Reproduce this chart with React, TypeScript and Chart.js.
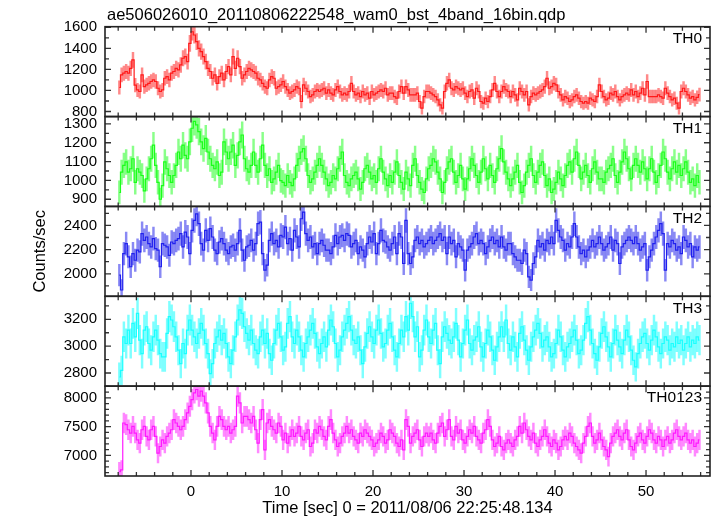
import React, { useEffect, useRef } from "react";
import { Chart, registerables } from "chart.js";

Chart.register(...registerables);

const BIN = 0.25;
const T_START = -7.875;
const TITLE = "ae506026010_20110806222548_wam0_bst_4band_16bin.qdp";
const X_TITLE = "Time [sec] 0 = 2011/08/06 22:25:48.134";
const Y_TITLE = "Counts/sec";
const X_TICKS = [0, 10, 20, 30, 40, 50];

const TH0_TICKS = [800, 1000, 1200, 1400, 1600];
const TH1_TICKS = [900, 1000, 1100, 1200, 1300];
const TH2_TICKS = [2000, 2200, 2400];
const TH3_TICKS = [2800, 3000, 3200];
const TH0123_TICKS = [7000, 7500, 8000];

const TH0 = [
  1028, 1148, 1164, 1180, 1164, 1210, 1290, 1050, 1005, 990, 1148, 1037, 1053, 1068, 1085, 1100,
  1085, 1021, 990, 1005, 1116, 1132, 1100, 1164, 1180, 1210, 1195, 1243, 1306, 1322, 1274, 1448,
  1558, 1527, 1464, 1400, 1370, 1322, 1274, 1210, 1180, 1116, 1148, 1068, 1132, 1164, 1100, 1180,
  1227, 1148, 1322, 1210, 1306, 1227, 1116, 1148, 1180, 1210, 1195, 1180, 1164, 1116, 1100, 1068,
  1037, 1021, 1100, 1132, 1116, 1021, 1037, 1053, 1085, 1037, 1005, 974, 990, 1005, 1037, 1021,
  895, 1053, 1021, 990, 942, 958, 990, 1005, 990, 1005, 1021, 974, 1005, 974, 958, 1005,
  1037, 990, 958, 974, 958, 990, 1068, 990, 958, 974, 942, 990, 958, 974, 927, 990,
  958, 974, 990, 1005, 990, 1021, 958, 974, 974, 942, 927, 990, 1037, 974, 1037, 1005,
  958, 958, 958, 974, 895, 832, 942, 990, 990, 974, 958, 942, 911, 863, 832, 990,
  1068, 1100, 1021, 1005, 1037, 1021, 1005, 1021, 974, 942, 990, 1005, 927, 1021, 990, 895,
  879, 927, 895, 942, 1005, 1068, 990, 942, 990, 1037, 1005, 990, 942, 990, 958, 911,
  1021, 990, 958, 990, 863, 942, 974, 958, 974, 990, 1005, 1037, 1116, 1021, 1037, 1068,
  1053, 990, 958, 911, 942, 927, 895, 911, 942, 958, 927, 895, 879, 895, 879, 927,
  911, 895, 942, 1053, 990, 942, 911, 927, 974, 958, 990, 942, 911, 942, 958, 974,
  958, 1005, 958, 990, 942, 974, 1021, 958, 1085, 942, 942, 942, 942, 958, 942, 927,
  1021, 974, 942, 911, 927, 879, 832, 990, 1021, 990, 958, 927, 942, 911, 935, 960,
];

const TH1 = [
  936, 1044, 1080, 1098, 1044, 1062, 1115, 990, 1062, 1044, 1026, 945, 1008, 1062, 1115, 1187,
  1080, 990, 900, 972, 1098, 1062, 1026, 990, 1026, 1080, 1151, 1115, 1187, 1133, 1115, 1205,
  1277, 1313, 1295, 1259, 1205, 1169, 1223, 1151, 1115, 1080, 1062, 1098, 1026, 1044, 1205, 1151,
  1115, 1151, 1187, 1080, 1133, 1205, 1241, 1115, 1062, 1044, 1080, 1151, 1080, 1044, 1115, 1187,
  1080, 1026, 1062, 990, 1008, 1044, 1080, 999, 990, 972, 1026, 990, 972, 1008, 1080, 1115,
  1151, 1169, 1115, 1026, 990, 1008, 1044, 1080, 1115, 1080, 1044, 1008, 972, 990, 1026, 1008,
  1062, 1115, 1151, 1026, 990, 972, 1008, 1026, 1044, 1008, 954, 990, 1062, 1080, 1044, 1008,
  1026, 990, 1062, 1115, 1044, 1008, 972, 1026, 990, 1044, 1098, 1026, 990, 954, 1044, 1008,
  972, 1080, 1115, 1026, 990, 954, 936, 1008, 1062, 1080, 1115, 1098, 1044, 1008, 936, 990,
  1062, 1098, 1115, 1044, 990, 1026, 1080, 1008, 954, 1008, 1062, 1115, 1080, 1026, 990, 1044,
  1115, 1062, 1008, 1080, 1026, 990, 1062, 1115, 1169, 1098, 1044, 1008, 972, 1008, 1044, 1080,
  990, 936, 972, 1044, 1080, 1115, 1026, 990, 1044, 1080, 1098, 1026, 972, 1008, 936, 954,
  990, 1044, 1008, 972, 1026, 1080, 1098, 1044, 1115, 1151, 1080, 1008, 1044, 1080, 1026, 990,
  1062, 1098, 1044, 1008, 1008, 990, 1044, 1062, 1080, 1115, 1026, 990, 1044, 1098, 1151, 1115,
  1062, 1008, 1080, 1115, 1080, 1044, 1098, 1062, 1008, 1062, 1115, 1044, 990, 1026, 1080, 1151,
  1115, 1044, 1008, 1062, 1098, 1044, 1080, 1026, 1062, 1098, 1044, 990, 1008, 972, 1026, 990,
];

const TH2 = [
  1989, 1866, 2167, 2249, 2140, 2058, 2167, 2112, 2195, 2181, 2332, 2277, 2304, 2249, 2222, 2290,
  2208, 2195, 2058, 2249, 2236, 2222, 2153, 2263, 2249, 2277, 2290, 2332, 2222, 2345, 2304, 2167,
  2359, 2441, 2496, 2414, 2249, 2195, 2359, 2277, 2373, 2304, 2195, 2167, 2263, 2290, 2249, 2195,
  2167, 2222, 2236, 2195, 2249, 2359, 2195, 2112, 2222, 2236, 2277, 2195, 2249, 2414, 2427, 2167,
  2030, 2071, 2277, 2332, 2249, 2277, 2222, 2318, 2304, 2386, 2249, 2290, 2195, 2359, 2304, 2222,
  2455, 2510, 2332, 2277, 2304, 2222, 2249, 2167, 2249, 2277, 2236, 2195, 2195, 2167, 2222, 2318,
  2249, 2304, 2318, 2277, 2332, 2318, 2222, 2249, 2277, 2167, 2222, 2195, 2140, 2249, 2304, 2263,
  2332, 2167, 2249, 2359, 2277, 2263, 2222, 2195, 2249, 2304, 2167, 2332, 2304, 2085, 2441, 2167,
  2085, 2140, 2277, 2304, 2249, 2277, 2222, 2249, 2277, 2304, 2249, 2277, 2304, 2332, 2277, 2304,
  2167, 2304, 2249, 2277, 2140, 2249, 2222, 2195, 2030, 2195, 2222, 2249, 2304, 2332, 2249, 2277,
  2249, 2167, 2222, 2277, 2304, 2249, 2277, 2222, 2304, 2222, 2195, 2249, 2249, 2167, 2140, 2112,
  2112, 2085, 2195, 2167, 1975, 1948, 2085, 2140, 2277, 2222, 2249, 2195, 2277, 2249, 2304, 2249,
  2441, 2359, 2304, 2277, 2195, 2249, 2222, 2304, 2414, 2304, 2222, 2167, 2195, 2140, 2195, 2222,
  2277, 2222, 2249, 2304, 2249, 2195, 2222, 2249, 2304, 2195, 2277, 2249, 2085, 2222, 2249, 2277,
  2304, 2277, 2249, 2304, 2249, 2195, 2222, 2249, 2030, 2140, 2195, 2249, 2304, 2359, 2414, 2332,
  2030, 2249, 2222, 2277, 2249, 2195, 2222, 2167, 2304, 2277, 2222, 2249, 2140, 2222, 2195, 2222,
];

const TH3 = [
  2770, 2820, 3070, 3020, 3120, 3020, 3170, 3070, 3245, 3045, 2945, 3120, 3145, 3020, 2970, 3070,
  3120, 3045, 2945, 2920, 2920, 3095, 3220, 3195, 3145, 3070, 2970, 2870, 3020, 2945, 3120, 3195,
  3120, 3070, 3020, 3095, 3170, 3120, 3020, 2945, 2795, 2870, 3020, 3070, 3120, 3045, 3095, 3020,
  2920, 2870, 2970, 3070, 3195, 3270, 3245, 3145, 3095, 3045, 3120, 3020, 2970, 2945, 3070, 3120,
  3020, 3095, 2945, 2895, 3020, 3120, 3170, 3070, 2970, 2995, 3170, 3220, 3070, 3020, 3120, 3070,
  2970, 2920, 3020, 3070, 3120, 3170, 3095, 2995, 2945, 3020, 3070, 2995, 3120, 3195, 3145, 3020,
  2920, 2970, 3070, 3120, 3170, 3220, 3120, 3045, 3020, 3070, 2970, 2870, 2995, 3095, 3145, 3070,
  3020, 3120, 3195, 3095, 2995, 3020, 3120, 3170, 3070, 2970, 2920, 3020, 3120, 3070, 3220, 3120,
  3320, 3220, 3070, 3145, 2920, 2970, 3120, 3195, 3070, 3020, 3120, 3170, 2970, 2870, 3070, 3145,
  3095, 3045, 3020, 3070, 3170, 3045, 2920, 3020, 3120, 3195, 3020, 2970, 3045, 3070, 3145, 2995,
  2920, 3020, 3120, 3070, 2970, 2895, 2995, 3070, 3145, 3070, 3195, 3020, 2970, 3070, 2995, 2920,
  3095, 3145, 3045, 2970, 2895, 2995, 3070, 3120, 3170, 3095, 2995, 3045, 3070, 2995, 2920, 2945,
  3020, 3120, 3070, 2970, 2920, 2995, 3020, 3070, 3120, 3045, 2945, 2970, 3045, 3170, 3220, 3120,
  3020, 2945, 2895, 2995, 3095, 3145, 3070, 2995, 2920, 3020, 3120, 3045, 2995, 2945, 3045, 3120,
  3070, 2970, 2895, 2845, 2945, 3020, 3070, 3095, 3020, 2970, 3045, 3120, 3070, 2995, 2945, 3020,
  3070, 3045, 2970, 3020, 2995, 3070, 3020, 3045, 2970, 3020, 3070, 2995, 3045, 3020, 3070, 3045,
];

const TH0123 = [
  6717, 6747, 7563, 7534, 7446, 7388, 7504, 7388, 7271, 7213, 7446, 7504, 7330, 7271, 7446, 7504,
  7330, 7038, 7155, 7271, 7213, 7330, 7388, 7446, 7621, 7563, 7504, 7446, 7504, 7621, 7738, 7854,
  7971, 8087, 8146, 8029, 8117, 8029, 7913, 7738, 7504, 7388, 7271, 7504, 7679, 7621, 7504, 7446,
  7504, 7388, 7446, 7504, 8029, 7913, 7563, 7679, 7679, 7621, 7563, 7679, 7446, 7213, 7621, 7796,
  7096, 7563, 7621, 7504, 7446, 7388, 7563, 7504, 7271, 7388, 7213, 7330, 7446, 7330, 7388, 7504,
  7330, 7271, 7388, 7446, 7155, 7213, 7446, 7388, 7504, 7446, 7330, 7271, 7504, 7621, 7388, 7271,
  7155, 7213, 7330, 7388, 7504, 7388, 7446, 7330, 7271, 7213, 7388, 7330, 7446, 7388, 7330, 7271,
  7155, 7213, 7271, 7388, 7330, 7213, 7271, 7446, 7388, 7330, 7213, 7155, 7271, 7096, 7621, 7504,
  7213, 7330, 7388, 7446, 7271, 7155, 7330, 7388, 7330, 7388, 7271, 7213, 7388, 7504, 7563, 7330,
  7446, 7621, 7330, 7271, 7504, 7388, 7446, 7271, 7213, 7330, 7446, 7388, 7504, 7330, 7271, 7213,
  7388, 7446, 7621, 7504, 7271, 7155, 7213, 7330, 7155, 7096, 7213, 7271, 7213, 7155, 7271, 7330,
  7504, 7388, 7563, 7446, 7330, 7271, 7388, 7213, 7155, 7271, 7330, 7446, 7330, 7213, 7155, 7271,
  7213, 7096, 7155, 7271, 7330, 7271, 7388, 7330, 7213, 7155, 7096, 7038, 7213, 7330, 7504, 7563,
  7330, 7213, 7271, 7388, 7271, 7155, 7096, 6979, 7213, 7330, 7388, 7446, 7330, 7271, 7388, 7446,
  7271, 7155, 7096, 7213, 7330, 7388, 7271, 7213, 7330, 7446, 7388, 7271, 7213, 7330, 7271, 7155,
  7271, 7330, 7213, 7271, 7388, 7446, 7330, 7271, 7330, 7388, 7271, 7213, 7271, 7155, 7213, 7271,
];

const PANELS = [
  { id: "y0", label: "TH0", values: TH0, ticks: TH0_TICKS, min: 752, max: 1606, minor: 100, line: "#ff1a1a", err: "rgba(255,40,40,0.55)" },
  { id: "y1", label: "TH1", values: TH1, ticks: TH1_TICKS, min: 862, max: 1339, minor: 50, line: "#1aff1a", err: "rgba(40,255,40,0.55)" },
  { id: "y2", label: "TH2", values: TH2, ticks: TH2_TICKS, min: 1814, max: 2557, minor: 100, line: "#2020ee", err: "rgba(40,40,235,0.55)" },
  { id: "y3", label: "TH3", values: TH3, ticks: TH3_TICKS, min: 2702, max: 3372, minor: 100, line: "#1affff", err: "rgba(40,255,255,0.6)" },
  { id: "y4", label: "TH0123", values: TH0123, ticks: TH0123_TICKS, min: 6642, max: 8204, minor: 100, line: "#ff1aff", err: "rgba(255,40,255,0.55)" },
];

const FONT = "'Liberation Sans', Arial, Helvetica, sans-serif";

const panelClip = {
  id: "panelClip",
  beforeDatasetDraw(chart: any, args: any) {
    const ys = chart.scales[args.meta.yAxisID];
    const ca = chart.chartArea;
    const ctx = chart.ctx;
    ctx.save();
    ctx.beginPath();
    ctx.rect(ca.left, ys.top, ca.right - ca.left, ys.bottom - ys.top);
    ctx.clip();
  },
  afterDatasetDraw(chart: any) {
    chart.ctx.restore();
  },
};

const frames = {
  id: "frames",
  afterDraw(chart: any) {
    const ctx = chart.ctx;
    const ca = chart.chartArea;
    const xs = chart.scales.x;
    const L = ca.left;
    const R = ca.right;
    ctx.save();
    PANELS.forEach((p) => {
      const ys = chart.scales[p.id];
      const T = ys.top;
      const B = ys.bottom;
      ctx.strokeStyle = "#333";
      ctx.lineWidth = 1.3;
      ctx.beginPath();
      for (let v = Math.ceil(xs.min / 2) * 2; v <= xs.max; v += 2) {
        const px = xs.getPixelForValue(v);
        const len = v % 10 === 0 ? 6 : 4;
        ctx.moveTo(px, T);
        ctx.lineTo(px, T + len);
        ctx.moveTo(px, B);
        ctx.lineTo(px, B - len);
      }
      for (let v = Math.ceil(p.min / p.minor) * p.minor; v <= p.max; v += p.minor) {
        const py = ys.getPixelForValue(v);
        const major = p.ticks.includes(v);
        const len = major ? 6 : 4;
        ctx.moveTo(L, py);
        ctx.lineTo(L + len, py);
        ctx.moveTo(R, py);
        ctx.lineTo(R - len, py);
      }
      ctx.stroke();
      ctx.strokeStyle = "#222";
      ctx.lineWidth = 1.6;
      ctx.strokeRect(L, T, R - L, B - T);
      ctx.fillStyle = "#000";
      ctx.font = `15.5px ${FONT}`;
      ctx.textAlign = "right";
      ctx.textBaseline = "middle";
      ctx.fillText(p.label, R - 8, T + 12);
    });
    ctx.fillStyle = "#000";
    ctx.font = `16.5px ${FONT}`;
    ctx.textAlign = "left";
    ctx.textBaseline = "middle";
    ctx.fillText(TITLE, 107, 15);
    ctx.textAlign = "center";
    ctx.fillText(X_TITLE, (L + R) / 2, 508);
    ctx.translate(40, (ca.top + ca.bottom) / 2);
    ctx.rotate(-Math.PI / 2);
    ctx.fillText(Y_TITLE, 0, 0);
    ctx.restore();
  },
};

export default function App() {
  const ref = useRef<HTMLCanvasElement | null>(null);
  useEffect(() => {
    if (!ref.current) return;
    Chart.defaults.font.family = FONT;
    Chart.defaults.font.size = 15;
    Chart.defaults.color = "#000";
    const datasets: any[] = [];
    const scales: any = {
      x: {
        type: "linear",
        min: -9.45,
        max: 57.03,
        offset: false,
        grid: { display: false, drawTicks: false },
        border: { display: false },
        ticks: { padding: 7, autoSkip: false, maxRotation: 0, callback: (v: any) => String(v) },
        afterBuildTicks: (s: any) => {
          s.ticks = X_TICKS.map((v) => ({ value: v }));
        },
        afterFit: (s: any) => {
          s.height = 40;
        },
      },
    };
    PANELS.forEach((p, idx) => {
      datasets.push({
        type: "line",
        label: p.label,
        yAxisID: p.id,
        xAxisID: "x",
        data: p.values.map((v, i) => ({ x: T_START + i * BIN, y: v })),
        stepped: "middle",
        borderColor: p.line,
        borderWidth: 1.2,
        pointRadius: 0,
        fill: false,
        order: 0,
      });
      datasets.push({
        type: "bar",
        label: p.label + " err",
        yAxisID: p.id,
        xAxisID: "x",
        data: p.values.map((v, i) => {
          const e = Math.sqrt(v / BIN);
          return { x: T_START + i * BIN, y: [v - e, v + e] };
        }),
        backgroundColor: p.err,
        borderWidth: 0,
        barThickness: 1.8,
        grouped: false,
        order: 1,
      });
      scales[p.id] = {
        type: "linear",
        position: "left",
        stack: "panels",
        stackWeight: 1,
        weight: 10 - idx,
        offset: false,
        min: p.min,
        max: p.max,
        grid: { display: false, drawTicks: false },
        border: { display: false },
        ticks: { padding: 8, autoSkip: false, callback: (v: any) => String(v) },
        afterBuildTicks: (s: any) => {
          s.ticks = p.ticks.map((v) => ({ value: v }));
        },
        afterFit: (s: any) => {
          s.width = 105;
        },
      };
    });
    const chart = new Chart(ref.current, {
      type: "line",
      data: { datasets },
      options: {
        responsive: false,
        animation: false,
        devicePixelRatio: 1,
        layout: { padding: { left: 0, top: 26.7, right: 7, bottom: 0 } },
        plugins: { legend: { display: false }, tooltip: { enabled: false } },
        scales,
      },
      plugins: [panelClip, frames],
    } as any);
    return () => chart.destroy();
  }, []);
  return (
    <div style={{ position: "fixed", left: 0, top: 0, width: 717, height: 516, background: "#fff" }}>
      <canvas ref={ref} width={717} height={516} style={{ display: "block" }} />
    </div>
  );
}
